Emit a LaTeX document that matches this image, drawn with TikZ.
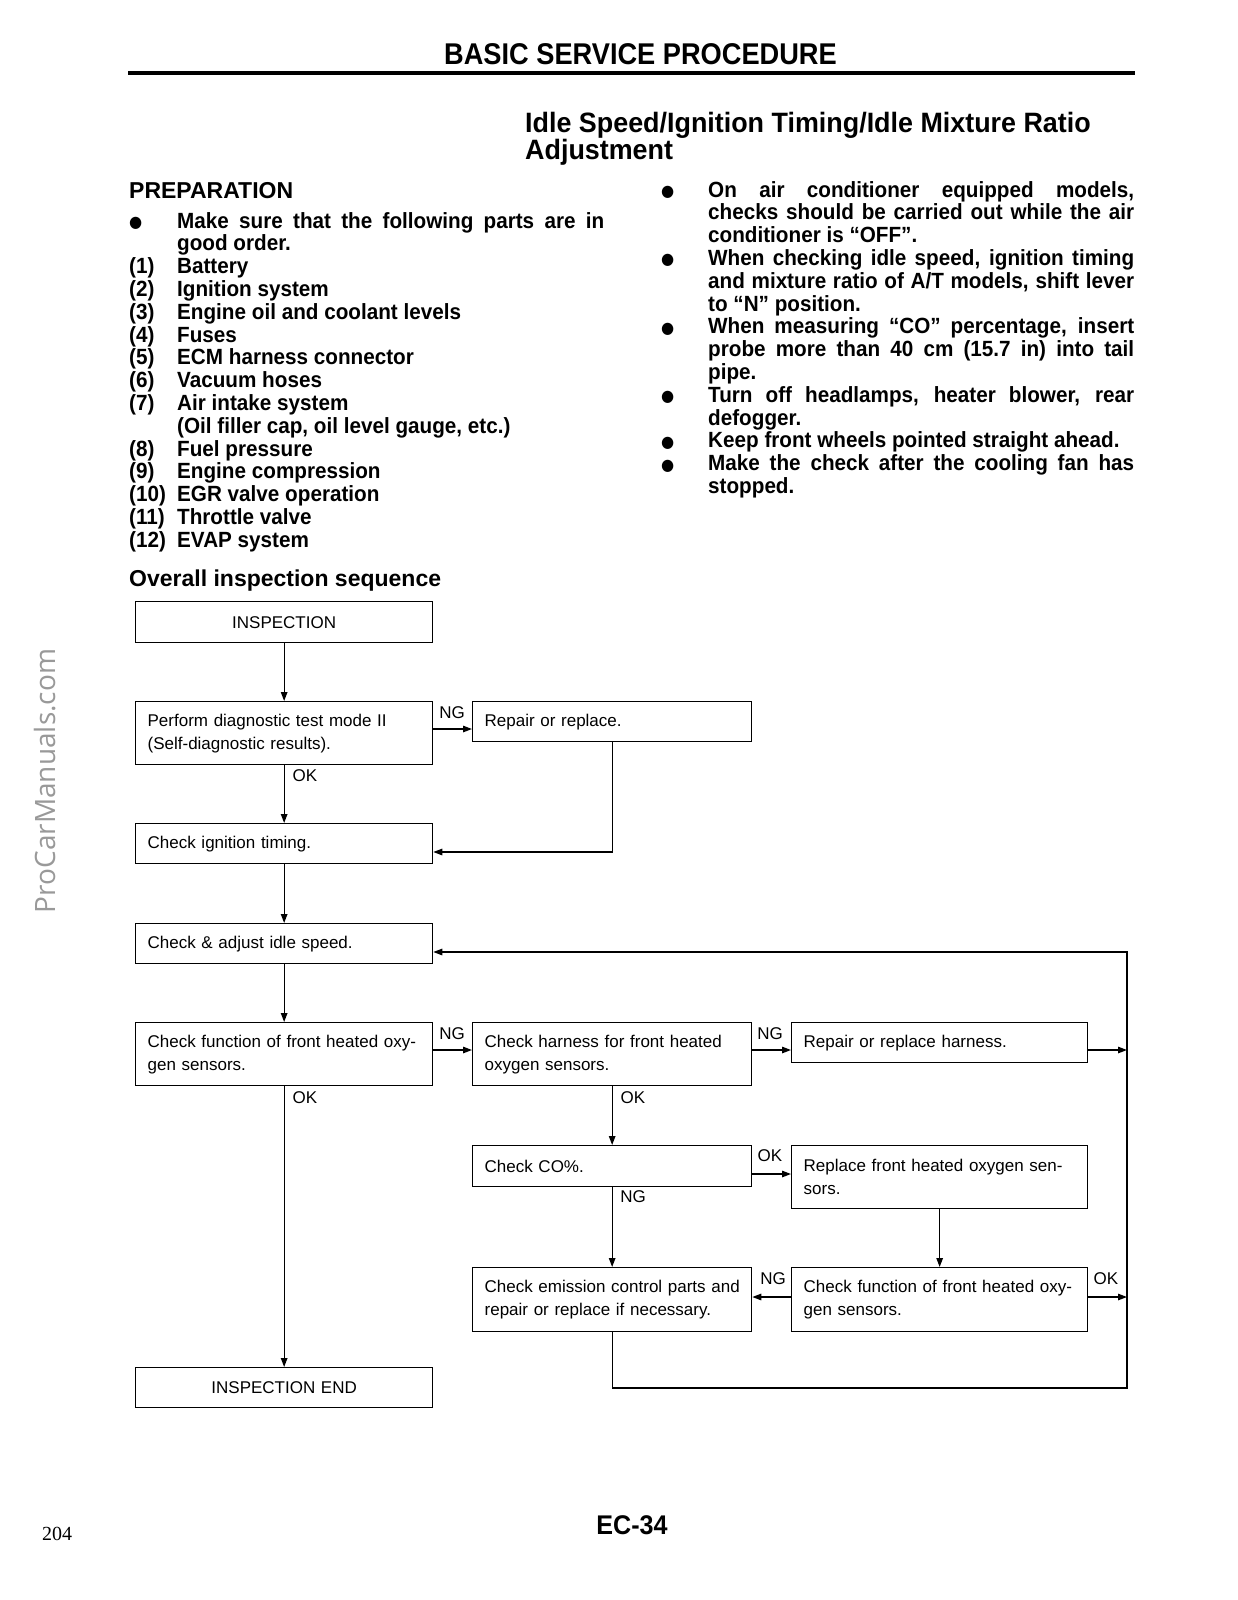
\documentclass[tikz,border=0pt]{standalone}
\usepackage{fontspec}
\setmainfont{Liberation Sans}
\newfontfamily\seriffont{Liberation Serif}
\newfontfamily\wmfont{Open Sans}
\newfontfamily\symfont{DejaVu Sans}
\usetikzlibrary{arrows.meta,calc}
\newcommand\diagfont{\fontsize{17}{23}\selectfont}
\newcommand\bodyfont{\fontsize{22}{22.8}\selectfont\bfseries}
\newcommand\bul{\raisebox{0.5pt}{\symfont\fontsize{16}{16}\selectfont ●}}
\newcommand\nb[1]{\makebox[51.06pt][l]{#1}}
\newcommand\nr[1]{\makebox[50pt][l]{#1}}
\begin{document}
\begin{tikzpicture}[x=1pt,y=-1pt,
  box/.style={draw, line width=1.3pt, anchor=north west, inner xsep=12pt, inner ysep=0pt, align=left, font=\diagfont},
  arr/.style={-{Triangle[length=9pt,width=6.5pt]}, line width=1.3pt},
  lbl/.style={font=\diagfont, inner sep=0pt},
  txt/.style={inner sep=0pt, anchor=base west}]
\fill[white] (0,0) rectangle (1237,1600);
\useasboundingbox (0,0) rectangle (1237,1600);

% header
\node[inner sep=0pt, anchor=base west, font=\fontsize{30}{32}\selectfont\bfseries] (title) at (444,65) {\scalebox{0.907}[1]{BASIC SERVICE PROCEDURE}};
\coordinate (r1) at (128,73);
\coordinate (r2) at (1135,73);
\draw[line width=4pt] (r1) -- (r2);
\node[txt, font=\fontsize{28}{30}\selectfont\bfseries] (head1) at (525,132) {\scalebox{0.96}[1]{Idle Speed/Ignition Timing/Idle Mixture Ratio}};
\node[txt, font=\fontsize{28}{30}\selectfont\bfseries] (head2) at (525,159) {\scalebox{0.96}[1]{Adjustment}};

% preparation
\node[txt, font=\fontsize{23}{26}\selectfont\bfseries] (prep) at (129,198) {PREPARATION};
\node[txt, font=\bodyfont] (leftlist) at (129,228) {\scalebox{0.94}[1]{\parbox[t]{560pt}{%
\nb{\bul}\makebox[454.3pt][s]{Make sure that the following parts are in}\\
\nb{}good order.\\
\nb{(1)}Battery\\
\nb{(2)}Ignition system\\
\nb{(3)}Engine oil and coolant levels\\
\nb{(4)}Fuses\\
\nb{(5)}ECM harness connector\\
\nb{(6)}Vacuum hoses\\
\nb{(7)}Air intake system\\
\nb{}(Oil filler cap, oil level gauge, etc.)\\
\nb{(8)}Fuel pressure\\
\nb{(9)}Engine compression\\
\nb{(10)}EGR valve operation\\
\nb{(11)}Throttle valve\\
\nb{(12)}EVAP system}}};

\node[txt, font=\bodyfont] (rightlist) at (661,197) {\scalebox{0.94}[1]{\parbox[t]{560pt}{%
\nr{\bul}\makebox[453.2pt][s]{On air conditioner equipped models,}\\
\nr{}\makebox[453.2pt][s]{checks should be carried out while the air}\\
\nr{}conditioner is “OFF”.\\
\nr{\bul}\makebox[453.2pt][s]{When checking idle speed, ignition timing}\\
\nr{}\makebox[453.2pt][s]{and mixture ratio of A/T models, shift lever}\\
\nr{}to “N” position.\\
\nr{\bul}\makebox[453.2pt][s]{When measuring “CO” percentage, insert}\\
\nr{}\makebox[453.2pt][s]{probe more than 40 cm (15.7 in) into tail}\\
\nr{}pipe.\\
\nr{\bul}\makebox[453.2pt][s]{Turn off headlamps, heater blower, rear}\\
\nr{}defogger.\\
\nr{\bul}Keep front wheels pointed straight ahead.\\
\nr{\bul}\makebox[453.2pt][s]{Make the check after the cooling fan has}\\
\nr{}stopped.}}};

\node[txt, font=\fontsize{23}{26}\selectfont\bfseries] (seq) at (129,586) {Overall inspection sequence};

% flowchart boxes
\node[box, text width=273pt, minimum height=41pt, align=center] (insp) at (135,601) {INSPECTION};
\node[box, text width=273pt, minimum height=63pt] (diag) at (135,701) {Perform diagnostic test mode II\\(Self-diagnostic results).};
\node[box, text width=255pt, minimum height=40pt] (rep) at (472,701) {Repair or replace.};
\node[box, text width=273pt, minimum height=40pt] (ign) at (135,823) {Check ignition timing.};
\node[box, text width=273pt, minimum height=40pt] (idle) at (135,923) {Check \& adjust idle speed.};
\node[box, text width=273pt, minimum height=63pt] (func1) at (135,1022) {\mbox{Check function of front heated oxy-}\\gen sensors.};
\node[box, text width=255pt, minimum height=63pt] (harn) at (472,1022) {Check harness for front heated\\oxygen sensors.};
\node[box, text width=272pt, minimum height=40pt] (rhar) at (791,1022) {Repair or replace harness.};
\node[box, text width=255pt, minimum height=41pt] (co) at (472,1145) {Check CO\%.};
\node[box, text width=272pt, minimum height=63pt] (repl) at (791,1145) {\mbox{Replace front heated oxygen sen-}\\sors.};
\node[box, text width=255pt, minimum height=64pt] (emis) at (472,1267) {\mbox{Check emission control parts and}\\repair or replace if necessary.};
\node[box, text width=272pt, minimum height=64pt] (func2) at (791,1267) {\mbox{Check function of front heated oxy-}\\gen sensors.};
\node[box, text width=273pt, minimum height=40pt, align=center] (iend) at (135,1367) {INSPECTION END};

% helper coordinates
\coordinate (yA) at (0,729);
\coordinate (yB) at (0,852);
\coordinate (yC) at (0,1050);
\coordinate (yD) at (0,1174);
\coordinate (yE) at (0,1297);
\coordinate (yF) at (0,952);
\coordinate (rx) at (1127,1388);

% connectors
\draw[arr] (insp) -- (diag);
\draw[arr] (diag.east |- yA) -- (rep.west |- yA);
\draw[arr] (diag) -- (ign);
\draw[arr] (rep.south) |- (ign.east |- yB);
\draw[arr] (ign) -- (idle);
\draw[arr] (idle) -- (func1);
\draw[arr] (func1.east |- yC) -- (harn.west |- yC);
\draw[arr] (harn.east |- yC) -- (rhar.west |- yC);
\draw[arr] (rhar.east |- yC) -- (rx |- yC);
\draw[arr] (func1) -- (iend);
\draw[arr] (harn) -- (co);
\draw[arr] (co.east |- yD) -- (repl.west |- yD);
\draw[arr] (co) -- (emis);
\draw[arr] (repl) -- (func2);
\draw[arr] (func2.west |- yE) -- (emis.east |- yE);
\draw[arr] (func2.east |- yE) -- (rx |- yE);
\draw[arr] (emis.south) |- (rx) |- (idle.east |- yF);

% labels
\node[lbl] (l1) at (452,713) {NG};
\node[lbl] (l2) at (305,776) {OK};
\node[lbl] (l3) at (452,1034) {NG};
\node[lbl] (l4) at (770,1034) {NG};
\node[lbl] (l5) at (305,1098) {OK};
\node[lbl] (l6) at (633,1098) {OK};
\node[lbl] (l7) at (770,1156) {OK};
\node[lbl] (l8) at (633,1197) {NG};
\node[lbl] (l9) at (773,1279) {NG};
\node[lbl] (l10) at (1106,1279) {OK};

% watermark and footer
\node[rotate=90, inner sep=0pt, font=\wmfont\fontsize{28}{30}\selectfont, text=black!40] (wm) at (45,781) {ProCarManuals.com};
\node[txt, font=\seriffont\fontsize{20}{24}\selectfont] (pnum) at (42,1540) {204};
\node[inner sep=0pt, anchor=base, font=\fontsize{27}{30}\selectfont\bfseries] (ec) at (632,1534) {\scalebox{0.93}[1]{EC-34}};
\end{tikzpicture}
\end{document}
